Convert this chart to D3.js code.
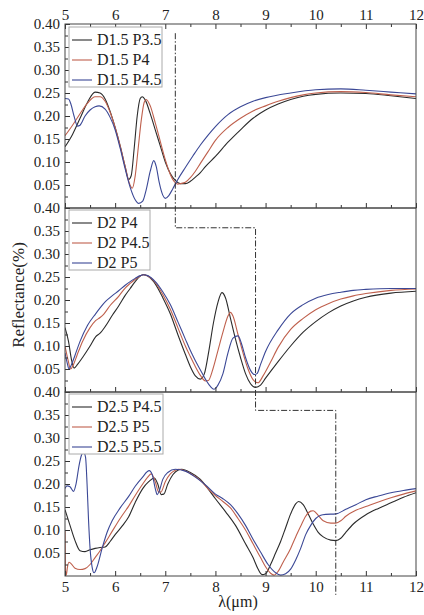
<!DOCTYPE html>
<html>
<head>
<meta charset="utf-8">
<script src="https://cdn.jsdelivr.net/npm/d3@7"></script>
<style>
  body { margin: 0; background: #fff; }
  text { font-family: "Liberation Serif", "Times New Roman", serif; fill: #222; }
</style>
</head>
<body>
<div id="chart"></div>
<script>
// tick values
const xTicks = [5, 6, 7, 8, 9, 10, 11, 12];
const xMinor = [5.5, 6.5, 7.5, 8.5, 9.5, 10.5, 11.5];
const yTicks = [0.05, 0.10, 0.15, 0.20, 0.25, 0.30, 0.35, 0.40];
const yMinor = [0.025, 0.075, 0.125, 0.175, 0.225, 0.275, 0.325, 0.375];

// legend names per panel
const namesTop = ["D1.5 P3.5", "D1.5 P4", "D1.5 P4.5"];
const namesMid = ["D2 P4", "D2 P4.5", "D2 P5"];
const namesBot = ["D2.5 P4.5", "D2.5 P5", "D2.5 P5.5"];

// reflectance curves [wavelength, reflectance]
const d15p35 = [[5,0.133],[5.15,0.16],[5.3,0.195],[5.45,0.23],[5.6,0.252],[5.7,0.25],[5.8,0.237],[5.9,0.21],[6.0,0.175],[6.1,0.135],[6.2,0.09],[6.27,0.062],[6.32,0.07],[6.38,0.13],[6.44,0.2],[6.5,0.238],[6.54,0.242],[6.6,0.235],[6.7,0.205],[6.8,0.17],[6.9,0.135],[7.0,0.1],[7.1,0.075],[7.2,0.06],[7.3,0.053],[7.4,0.053],[7.5,0.058],[7.6,0.067],[7.7,0.077],[7.8,0.09],[8.0,0.112],[8.25,0.143],[8.5,0.17],[8.75,0.195],[9.0,0.213],[9.25,0.226],[9.5,0.236],[9.75,0.243],[10,0.247],[10.5,0.25],[11,0.249],[11.5,0.244],[12,0.238]];
const d15p4 = [[5,0.157],[5.15,0.18],[5.3,0.205],[5.45,0.228],[5.6,0.242],[5.7,0.242],[5.8,0.232],[5.9,0.208],[6.0,0.175],[6.1,0.135],[6.2,0.09],[6.28,0.055],[6.34,0.043],[6.4,0.07],[6.46,0.13],[6.52,0.19],[6.58,0.23],[6.62,0.236],[6.7,0.222],[6.8,0.185],[6.9,0.145],[7.0,0.105],[7.1,0.073],[7.2,0.055],[7.25,0.052],[7.3,0.053],[7.4,0.056],[7.5,0.066],[7.6,0.08],[7.7,0.097],[7.85,0.122],[8.0,0.147],[8.25,0.175],[8.5,0.195],[8.75,0.211],[9.0,0.222],[9.25,0.232],[9.5,0.24],[9.75,0.246],[10,0.25],[10.5,0.253],[11,0.251],[11.5,0.246],[12,0.242]];
const d15p45 = [[5,0.238],[5.07,0.237],[5.12,0.225],[5.18,0.2],[5.25,0.178],[5.3,0.18],[5.4,0.2],[5.5,0.213],[5.6,0.22],[5.68,0.222],[5.8,0.215],[5.9,0.197],[6.0,0.17],[6.1,0.13],[6.2,0.085],[6.3,0.045],[6.4,0.018],[6.47,0.01],[6.55,0.015],[6.62,0.04],[6.7,0.08],[6.77,0.103],[6.82,0.09],[6.88,0.055],[6.95,0.028],[7.0,0.021],[7.07,0.027],[7.15,0.042],[7.25,0.062],[7.4,0.088],[7.55,0.113],[7.7,0.137],[7.85,0.158],[8.0,0.177],[8.25,0.203],[8.5,0.22],[8.75,0.232],[9.0,0.24],[9.5,0.25],[10,0.257],[10.5,0.259],[11,0.256],[11.5,0.252],[12,0.248]];

const d2p4 = [[5,0.14],[5.07,0.11],[5.13,0.07],[5.18,0.052],[5.25,0.06],[5.35,0.075],[5.5,0.1],[5.61,0.12],[5.7,0.128],[5.8,0.142],[5.95,0.168],[6.07,0.187],[6.2,0.21],[6.3,0.225],[6.4,0.24],[6.5,0.252],[6.56,0.255],[6.65,0.252],[6.8,0.235],[6.95,0.205],[7.1,0.17],[7.25,0.125],[7.4,0.082],[7.5,0.055],[7.6,0.035],[7.7,0.028],[7.78,0.04],[7.87,0.09],[7.96,0.15],[8.05,0.195],[8.13,0.216],[8.2,0.205],[8.3,0.16],[8.4,0.115],[8.5,0.075],[8.6,0.04],[8.7,0.018],[8.8,0.01],[8.9,0.015],[9.0,0.03],[9.25,0.066],[9.5,0.1],[9.75,0.13],[10,0.153],[10.25,0.172],[10.5,0.187],[10.75,0.198],[11,0.206],[11.5,0.215],[12,0.219]];
const d2p45 = [[5,0.1],[5.06,0.07],[5.11,0.05],[5.17,0.06],[5.24,0.08],[5.35,0.11],[5.5,0.14],[5.61,0.155],[5.7,0.162],[5.77,0.169],[5.9,0.188],[6.07,0.208],[6.2,0.226],[6.3,0.236],[6.4,0.245],[6.5,0.252],[6.56,0.255],[6.65,0.252],[6.8,0.238],[6.95,0.212],[7.1,0.18],[7.25,0.14],[7.4,0.1],[7.5,0.077],[7.6,0.055],[7.7,0.036],[7.8,0.024],[7.86,0.025],[7.95,0.05],[8.05,0.09],[8.15,0.13],[8.25,0.165],[8.3,0.173],[8.35,0.165],[8.45,0.125],[8.55,0.085],[8.65,0.05],[8.75,0.027],[8.85,0.02],[8.95,0.035],[9.1,0.065],[9.25,0.097],[9.5,0.136],[9.75,0.16],[10,0.179],[10.25,0.192],[10.5,0.202],[10.75,0.209],[11,0.214],[11.5,0.221],[12,0.224]];
const d2p5 = [[5,0.085],[5.04,0.065],[5.08,0.05],[5.13,0.06],[5.2,0.08],[5.3,0.11],[5.45,0.145],[5.61,0.17],[5.7,0.183],[5.81,0.197],[5.95,0.21],[6.07,0.22],[6.2,0.232],[6.3,0.24],[6.4,0.247],[6.5,0.253],[6.56,0.255],[6.65,0.253],[6.8,0.24],[6.95,0.218],[7.1,0.19],[7.25,0.153],[7.4,0.115],[7.5,0.09],[7.6,0.068],[7.7,0.048],[7.8,0.028],[7.9,0.012],[7.97,0.006],[8.05,0.015],[8.15,0.04],[8.25,0.085],[8.35,0.117],[8.45,0.122],[8.52,0.105],[8.6,0.075],[8.7,0.047],[8.78,0.038],[8.83,0.04],[8.9,0.06],[9.0,0.088],[9.25,0.135],[9.5,0.17],[9.75,0.19],[10,0.204],[10.25,0.212],[10.5,0.217],[10.75,0.221],[11,0.223],[11.5,0.225],[12,0.225]];

const d25p45 = [[5,0.144],[5.1,0.11],[5.2,0.077],[5.3,0.055],[5.4,0.053],[5.5,0.057],[5.6,0.06],[5.7,0.062],[5.8,0.063],[5.9,0.075],[6.0,0.09],[6.15,0.11],[6.27,0.129],[6.4,0.16],[6.55,0.19],[6.67,0.205],[6.78,0.213],[6.85,0.2],[6.92,0.177],[6.97,0.178],[7.05,0.2],[7.15,0.22],[7.25,0.23],[7.33,0.232],[7.5,0.225],[7.7,0.21],[7.85,0.19],[8.0,0.168],[8.2,0.14],[8.4,0.11],[8.6,0.07],[8.75,0.04],[8.85,0.015],[8.93,0.003],[9.0,0.005],[9.1,0.025],[9.2,0.05],[9.3,0.075],[9.4,0.105],[9.5,0.135],[9.6,0.157],[9.66,0.162],[9.75,0.155],[9.85,0.135],[9.95,0.113],[10.05,0.095],[10.15,0.085],[10.3,0.078],[10.4,0.077],[10.5,0.082],[10.6,0.095],[10.75,0.113],[11,0.133],[11.25,0.147],[11.5,0.159],[11.75,0.171],[12,0.181]];
const d25p5 = [[5,0.1],[5.012,0.01],[5.025,0.002],[5.05,0.02],[5.08,0.03],[5.12,0.027],[5.2,0.017],[5.3,0.014],[5.4,0.016],[5.5,0.025],[5.6,0.04],[5.7,0.055],[5.8,0.072],[5.94,0.097],[6.1,0.125],[6.27,0.152],[6.4,0.175],[6.55,0.2],[6.65,0.215],[6.72,0.222],[6.8,0.205],[6.86,0.184],[6.91,0.182],[7.0,0.205],[7.1,0.222],[7.2,0.23],[7.27,0.232],[7.5,0.223],[7.7,0.208],[7.85,0.19],[8.0,0.175],[8.15,0.162],[8.3,0.148],[8.45,0.125],[8.6,0.1],[8.75,0.07],[8.9,0.04],[9.0,0.02],[9.1,0.006],[9.17,0.002],[9.25,0.01],[9.35,0.03],[9.5,0.06],[9.6,0.085],[9.7,0.108],[9.8,0.13],[9.9,0.141],[9.95,0.142],[10.05,0.132],[10.15,0.12],[10.3,0.115],[10.4,0.115],[10.5,0.12],[10.6,0.13],[10.8,0.143],[11,0.151],[11.25,0.161],[11.5,0.17],[11.75,0.178],[12,0.185]];
const d25p55 = [[5,0.19],[5.04,0.196],[5.1,0.194],[5.17,0.184],[5.22,0.2],[5.28,0.24],[5.33,0.263],[5.37,0.269],[5.41,0.258],[5.44,0.2],[5.47,0.12],[5.5,0.06],[5.54,0.02],[5.58,0.007],[5.64,0.02],[5.74,0.06],[5.84,0.095],[5.94,0.12],[6.1,0.148],[6.27,0.173],[6.4,0.195],[6.54,0.214],[6.68,0.229],[6.74,0.22],[6.8,0.19],[6.84,0.177],[6.88,0.185],[6.95,0.21],[7.05,0.225],[7.2,0.232],[7.4,0.228],[7.6,0.215],[7.8,0.198],[8.0,0.178],[8.15,0.168],[8.3,0.155],[8.45,0.135],[8.6,0.11],[8.75,0.08],[8.9,0.052],[9.05,0.025],[9.2,0.007],[9.3,0.002],[9.4,0.005],[9.5,0.015],[9.6,0.035],[9.7,0.06],[9.8,0.09],[9.9,0.11],[10.0,0.125],[10.1,0.132],[10.2,0.134],[10.4,0.135],[10.6,0.145],[10.8,0.155],[11,0.166],[11.25,0.174],[11.5,0.181],[11.75,0.186],[12,0.19]];

// dash-dot guide: [panel index, wavelength, reflectance]
const guide = [[0,7.2,0.38],[1,7.2,0.357],[1,8.8,0.357],[2,8.8,0.36],[2,10.4,0.36],[2,10.4,-0.041]];

const colors = ["#2b2b2b", "#bf604d", "#3b4896"];

const W = 424, H = 615;
const left = 65, right = 416;
const panelTop = [24, 208, 392];
const panelH = 184;

const x = d3.scaleLinear().domain([5, 12]).range([left, right]);
const ys = panelTop.map(t => d3.scaleLinear().domain([0, 0.40]).range([t + panelH, t]));

const svg = d3.select("#chart").append("svg")
  .attr("width", W)
  .attr("height", H);

const panels = [
  { names: namesTop, data: [d15p35, d15p4, d15p45], legendW: 93, legendTop: 3 },
  { names: namesMid, data: [d2p4, d2p45, d2p5], legendW: 81, legendTop: 2 },
  { names: namesBot, data: [d25p45, d25p5, d25p55], legendW: 94, legendTop: 2 }
];

const tidy = g => {
  g.select(".domain").remove();
  g.selectAll(".tick line").attr("stroke", "#333");
};

panels.forEach((p, i) => {
  const y = ys[i];
  const top = panelTop[i], bottom = top + panelH;
  const g = svg.append("g");

  g.append("clipPath").attr("id", "clip" + i)
    .append("rect")
    .attr("x", left).attr("y", top)
    .attr("width", right - left).attr("height", panelH);

  const line = d3.line()
    .x(d => x(d[0]))
    .y(d => y(d[1]))
    .curve(d3.curveMonotoneX);

  g.append("g").attr("clip-path", `url(#clip${i})`)
    .selectAll("path")
    .data(p.data)
    .enter()
    .append("path")
    .attr("d", line)
    .attr("fill", "none")
    .attr("stroke", (d, k) => colors[k])
    .attr("stroke-width", 1.1);

  // y axis, inward ticks
  g.append("g")
    .attr("transform", `translate(${left},0)`)
    .style("font-size", "15px")
    .call(d3.axisLeft(y).tickValues(yTicks).tickFormat(d3.format(".2f"))
      .tickSizeInner(-5).tickSizeOuter(0).tickPadding(5))
    .call(tidy)
    .selectAll("text").attr("font-family", null).attr("font-size", null);

  g.append("g")
    .attr("transform", `translate(${left},0)`)
    .call(d3.axisLeft(y).tickValues(yMinor).tickFormat("").tickSizeInner(-3).tickSizeOuter(0))
    .call(tidy);

  // bottom x ticks, inward
  const bx = g.append("g")
    .attr("transform", `translate(0,${bottom})`)
    .style("font-size", "15px")
    .call(d3.axisBottom(x).tickValues(xTicks)
      .tickFormat(i === 2 ? d3.format("d") : "")
      .tickSizeInner(-5).tickSizeOuter(0).tickPadding(5))
    .call(tidy);
  bx.selectAll("text").attr("font-family", null).attr("font-size", null);

  g.append("g")
    .attr("transform", `translate(0,${bottom})`)
    .call(d3.axisBottom(x).tickValues(xMinor).tickFormat("").tickSizeInner(-3).tickSizeOuter(0))
    .call(tidy);

  if (i === 0) {
    g.append("g")
      .attr("transform", `translate(0,${top})`)
      .style("font-size", "15px")
      .call(d3.axisTop(x).tickValues(xTicks).tickFormat(d3.format("d"))
        .tickSizeInner(-5).tickSizeOuter(0).tickPadding(4))
      .call(tidy)
      .selectAll("text").attr("font-family", null).attr("font-size", null);
    g.append("g")
      .attr("transform", `translate(0,${top})`)
      .call(d3.axisTop(x).tickValues(xMinor).tickFormat("").tickSizeInner(-3).tickSizeOuter(0))
      .call(tidy);
  }

  // frame
  g.append("rect")
    .attr("x", left).attr("y", top)
    .attr("width", right - left).attr("height", panelH)
    .attr("fill", "none")
    .attr("stroke", "#444")
    .attr("stroke-width", 1);

  // legend
  const lg = g.append("g")
    .attr("transform", `translate(${left + 4},${top + p.legendTop})`);

  lg.append("rect")
    .attr("width", p.legendW)
    .attr("height", 60)
    .attr("fill", "#fff")
    .attr("stroke", "#aaa")
    .attr("stroke-width", 1);

  const items = lg.selectAll("g.item")
    .data(p.names)
    .enter()
    .append("g")
    .attr("class", "item")
    .attr("transform", (d, k) => `translate(0,${13 + k * 20})`);

  items.append("line")
    .attr("x1", 3).attr("x2", 23)
    .attr("stroke", (d, k) => colors[k])
    .attr("stroke-width", 1.1);

  items.append("text")
    .attr("x", 28)
    .attr("y", 5)
    .style("font-size", "16px")
    .text(d => d);
});

// dash-dot guide across panels
const guideLine = d3.line()
  .x(d => x(d[1]))
  .y(d => ys[d[0]](d[2]));

svg.append("path")
  .datum(guide)
  .attr("d", guideLine)
  .attr("fill", "none")
  .attr("stroke", "#333")
  .attr("stroke-width", 1)
  .attr("stroke-dasharray", "6,2,1.5,2");

// axis titles
svg.append("text")
  .attr("transform", "translate(24,295) rotate(-90)")
  .attr("text-anchor", "middle")
  .style("font-size", "17px")
  .text("Reflectance(%)");

svg.append("text")
  .attr("x", 238)
  .attr("y", 607)
  .attr("text-anchor", "middle")
  .style("font-size", "16px")
  .text("λ(μm)");
</script>
</body>
</html>
